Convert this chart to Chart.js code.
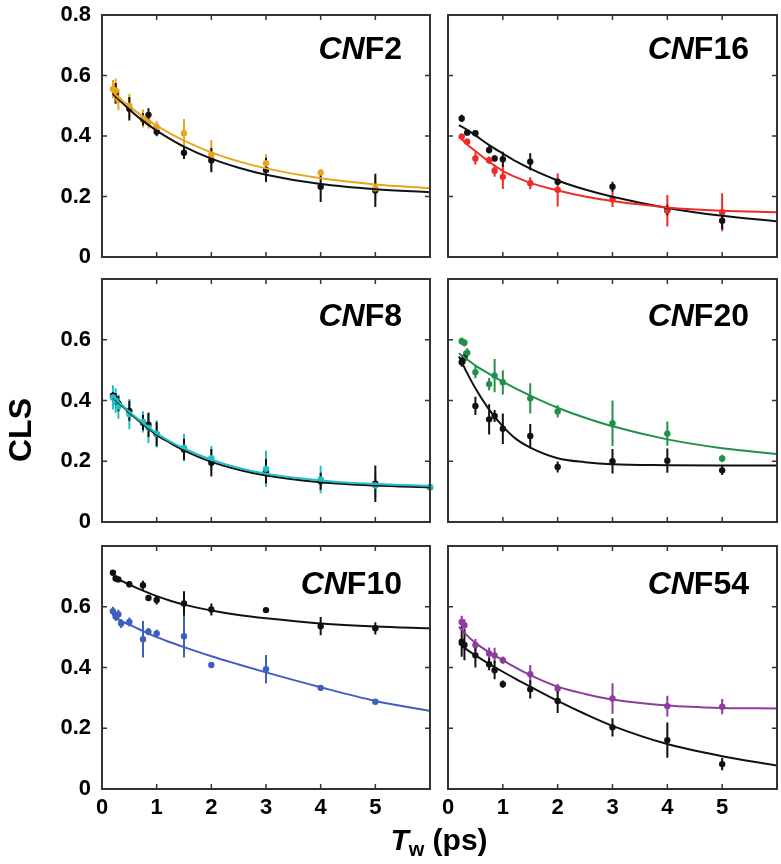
<!DOCTYPE html>
<html>
<head>
<meta charset="utf-8">
<script src="https://cdn.jsdelivr.net/npm/chart.js@4.4.1/dist/chart.umd.min.js"></script>
<style>
  body { margin: 0; background: #fff; }
  #fig { position: relative; width: 781px; height: 864px; font-family: "Liberation Sans", Arial, sans-serif; color: #000; }
  #fig canvas { position: absolute; }
  .lbl { position: absolute; font-weight: bold; line-height: 1; white-space: nowrap; }
  .name { font-size: 32px; text-align: right; }
  .name i { font-style: italic; }
</style>
</head>
<body>
<div id="fig"></div>
<script>
// shared axes
const fitTw = [0.2, 0.35, 0.5, 0.75, 1, 1.25, 1.5, 2, 2.5, 3, 4, 5, 6];
const xTickVals = [0, 1, 2, 3, 4, 5];
const yTickVals = [0, 0.2, 0.4, 0.6, 0.8];
const panelNames = ['CNF2', 'CNF16', 'CNF8', 'CNF20', 'CNF10', 'CNF54'];

// CNF2
const cnf2OrangeTw  = [0.2, 0.25, 0.3, 0.5, 0.75, 0.85, 1, 1.5, 2, 3, 4, 5];
const cnf2Orange    = [0.555, 0.55, 0.52, 0.50, 0.458, 0.445, 0.43, 0.409, 0.337, 0.31, 0.279, 0.227];
const cnf2OrangeErr = [0.03, 0.04, 0.035, 0.04, 0.03, 0.02, 0.02, 0.047, 0.05, 0.03, 0.012, 0.04];
const cnf2BlackTw   = [0.25, 0.5, 0.75, 0.85, 1, 1.5, 2, 3, 4, 5];
const cnf2Black     = [0.541, 0.49, 0.455, 0.47, 0.414, 0.345, 0.32, 0.288, 0.232, 0.22];
const cnf2BlackErr  = [0.034, 0.039, 0.02, 0.022, 0.015, 0.021, 0.04, 0.04, 0.05, 0.055];
const cnf2OrangeFit = [0.545, 0.52, 0.498, 0.464, 0.434, 0.408, 0.385, 0.346, 0.316, 0.293, 0.26, 0.24, 0.228];
const cnf2BlackFit  = [0.54, 0.513, 0.488, 0.45, 0.418, 0.39, 0.365, 0.325, 0.295, 0.272, 0.241, 0.224, 0.214];

// CNF16
const cnf16Tw       = [0.25, 0.35, 0.5, 0.75, 0.85, 1, 1.5, 2, 3, 4, 5];
const cnf16Red      = [0.398, 0.381, 0.326, 0.32, 0.285, 0.265, 0.244, 0.222, 0.19, 0.153, 0.148];
const cnf16RedErr   = [0.01, 0.01, 0.02, 0.012, 0.02, 0.04, 0.02, 0.055, 0.025, 0.052, 0.063];
const cnf16Black    = [0.458, 0.411, 0.409, 0.354, 0.326, 0.323, 0.315, 0.249, 0.232, 0.155, 0.12];
const cnf16BlackErr = [0.012, 0.008, 0.01, 0.012, 0.01, 0.025, 0.028, 0.01, 0.017, 0.017, 0.028];
const cnf16RedFit   = [0.398, 0.372, 0.35, 0.315, 0.285, 0.263, 0.245, 0.22, 0.2, 0.185, 0.164, 0.153, 0.148];
const cnf16BlackFit = [0.436, 0.42, 0.402, 0.37, 0.342, 0.315, 0.292, 0.253, 0.223, 0.199, 0.162, 0.136, 0.118];

// CNF8
const cnf8Tw        = [0.2, 0.25, 0.3, 0.5, 0.75, 0.85, 1, 1.5, 2, 3, 4, 5, 6];
const cnf8Cyan      = [0.41, 0.40, 0.38, 0.355, 0.33, 0.31, 0.29, 0.245, 0.21, 0.175, 0.14, 0.12, 0.115];
const cnf8CyanErr   = [0.04, 0.04, 0.04, 0.05, 0.035, 0.05, 0.045, 0.045, 0.04, 0.06, 0.045, 0.04, 0.055];
const cnf8Black     = [0.416, 0.405, 0.39, 0.366, 0.327, 0.32, 0.289, 0.239, 0.195, 0.167, 0.134, 0.126, 0.114];
const cnf8BlackErr  = [0.012, 0.02, 0.025, 0.033, 0.025, 0.04, 0.04, 0.035, 0.045, 0.04, 0.028, 0.06, 0.01];
const cnf8CyanFit   = [0.412, 0.388, 0.363, 0.326, 0.292, 0.265, 0.242, 0.205, 0.178, 0.159, 0.137, 0.125, 0.119];
const cnf8BlackFit  = [0.41, 0.385, 0.36, 0.322, 0.287, 0.26, 0.236, 0.198, 0.172, 0.153, 0.131, 0.12, 0.114];

// CNF20
const cnf20GreenTw  = [0.25, 0.3, 0.35, 0.5, 0.75, 0.85, 1, 1.5, 2, 3, 4, 5];
const cnf20Green    = [0.595, 0.59, 0.557, 0.493, 0.454, 0.482, 0.46, 0.407, 0.364, 0.325, 0.291, 0.209];
const cnf20GreenErr = [0.012, 0.012, 0.015, 0.02, 0.02, 0.055, 0.04, 0.05, 0.02, 0.075, 0.04, 0.012];
const cnf20BlackTw  = [0.25, 0.3, 0.5, 0.75, 0.85, 1, 1.5, 2, 3, 4, 5];
const cnf20Black    = [0.526, 0.541, 0.382, 0.338, 0.349, 0.307, 0.283, 0.181, 0.2, 0.202, 0.17];
const cnf20BlackErr = [0.015, 0.02, 0.03, 0.05, 0.02, 0.05, 0.04, 0.018, 0.04, 0.04, 0.015];
const cnf20GreenFit = [0.555, 0.535, 0.515, 0.488, 0.462, 0.438, 0.416, 0.376, 0.343, 0.315, 0.272, 0.243, 0.224];
const cnf20BlackFit = [0.545, 0.49, 0.44, 0.37, 0.315, 0.272, 0.245, 0.21, 0.197, 0.19, 0.187, 0.186, 0.186];

// CNF10
const cnf10BlueTw   = [0.2, 0.25, 0.3, 0.35, 0.5, 0.75, 0.85, 1, 1.5, 2, 3, 4, 5];
const cnf10Blue     = [0.585, 0.568, 0.575, 0.545, 0.55, 0.493, 0.518, 0.512, 0.503, 0.408, 0.394, 0.333, 0.287];
const cnf10BlueErr  = [0.015, 0.015, 0.015, 0.015, 0.015, 0.06, 0.012, 0.012, 0.07, 0, 0.047, 0, 0];
const cnf10BlackTw  = [0.2, 0.25, 0.3, 0.5, 0.75, 0.85, 1, 1.5, 2, 3, 4, 5];
const cnf10Black    = [0.712, 0.693, 0.69, 0.674, 0.671, 0.629, 0.622, 0.611, 0.591, 0.589, 0.536, 0.529];
const cnf10BlackErr = [0.008, 0.01, 0.008, 0.01, 0.015, 0.008, 0.015, 0.04, 0.02, 0, 0.03, 0.02];
const cnf10BlueFit  = [0.565, 0.553, 0.541, 0.52, 0.5, 0.483, 0.467, 0.437, 0.41, 0.384, 0.335, 0.29, 0.257];
const cnf10BlackFit = [0.70, 0.686, 0.673, 0.653, 0.635, 0.62, 0.607, 0.588, 0.573, 0.562, 0.545, 0.535, 0.529];

// CNF54
const cnf54Tw        = [0.25, 0.3, 0.5, 0.75, 0.85, 1, 1.5, 2, 3, 4, 5];
const cnf54Purple    = [0.55, 0.539, 0.474, 0.446, 0.44, 0.424, 0.378, 0.331, 0.298, 0.273, 0.271];
const cnf54PurpleErr = [0.02, 0.02, 0.02, 0.02, 0.025, 0.012, 0.03, 0.015, 0.05, 0.034, 0.025];
const cnf54Black     = [0.485, 0.474, 0.44, 0.411, 0.391, 0.345, 0.328, 0.29, 0.203, 0.161, 0.082];
const cnf54BlackErr  = [0.05, 0.05, 0.04, 0.02, 0.03, 0.012, 0.03, 0.04, 0.03, 0.058, 0.02];
const cnf54PurpleFit = [0.534, 0.505, 0.481, 0.45, 0.424, 0.398, 0.375, 0.337, 0.313, 0.295, 0.275, 0.267, 0.265];
const cnf54BlackFit  = [0.479, 0.458, 0.44, 0.412, 0.386, 0.361, 0.337, 0.29, 0.247, 0.208, 0.148, 0.108, 0.077];

const BLACK = '#111111';
const panels = [
  { box: [102, 15, 430, 257], left: true, bottom: false, top08: true, title: 21,
    series: [['#E8A51E', cnf2OrangeTw, cnf2Orange, cnf2OrangeErr, cnf2OrangeFit], [BLACK, cnf2BlackTw, cnf2Black, cnf2BlackErr, cnf2BlackFit]] },
  { box: [448, 15, 777, 257], left: false, bottom: false, top08: true, title: 21,
    series: [['#EE2B2B', cnf16Tw, cnf16Red, cnf16RedErr, cnf16RedFit], [BLACK, cnf16Tw, cnf16Black, cnf16BlackErr, cnf16BlackFit]] },
  { box: [102, 279, 430, 522], left: true, bottom: false, top08: false, title: 24,
    series: [['#22C0C4', cnf8Tw, cnf8Cyan, cnf8CyanErr, cnf8CyanFit], [BLACK, cnf8Tw, cnf8Black, cnf8BlackErr, cnf8BlackFit]] },
  { box: [448, 279, 777, 522], left: false, bottom: false, top08: false, title: 24,
    series: [['#22904A', cnf20GreenTw, cnf20Green, cnf20GreenErr, cnf20GreenFit], [BLACK, cnf20BlackTw, cnf20Black, cnf20BlackErr, cnf20BlackFit]] },
  { box: [102, 546, 430, 789], left: true, bottom: true, top08: false, title: 25,
    series: [['#3F5FBF', cnf10BlueTw, cnf10Blue, cnf10BlueErr, cnf10BlueFit], [BLACK, cnf10BlackTw, cnf10Black, cnf10BlackErr, cnf10BlackFit]] },
  { box: [448, 546, 777, 789], left: false, bottom: true, top08: false, title: 25,
    series: [['#8E3C9E', cnf54Tw, cnf54Purple, cnf54PurpleErr, cnf54PurpleFit], [BLACK, cnf54Tw, cnf54Black, cnf54BlackErr, cnf54BlackFit]] }
];

// error bars drawn with the chart's own scales
const errorBars = {
  id: 'errorBars',
  beforeDatasetsDraw(chart) {
    const { ctx, scales: { x, y } } = chart;
    ctx.save();
    ctx.lineWidth = 2;
    chart.data.datasets.forEach(ds => {
      if (!ds.err) return;
      ctx.strokeStyle = ds.borderColor;
      ctx.beginPath();
      ds.data.forEach((p, i) => {
        const e = ds.err[i];
        if (!e) return;
        const px = x.getPixelForValue(p.x);
        ctx.moveTo(px, y.getPixelForValue(p.y - e));
        ctx.lineTo(px, y.getPixelForValue(p.y + e));
      });
      ctx.stroke();
    });
    ctx.restore();
  }
};

// box frame with inward ticks
const frame = {
  id: 'frame',
  afterDraw(chart) {
    const { ctx, chartArea: a, scales: { x, y } } = chart;
    ctx.save();
    ctx.strokeStyle = '#333';
    ctx.lineWidth = 2;
    ctx.strokeRect(a.left, a.top, a.right - a.left, a.bottom - a.top);
    ctx.lineWidth = 1.5;
    ctx.beginPath();
    xTickVals.forEach(v => {
      if (v <= 0) return;
      const px = x.getPixelForValue(v);
      ctx.moveTo(px, a.bottom); ctx.lineTo(px, a.bottom - 5);
      ctx.moveTo(px, a.top); ctx.lineTo(px, a.top + 5);
    });
    yTickVals.forEach(v => {
      if (v <= 0 || v >= 0.8) return;
      const py = y.getPixelForValue(v);
      ctx.moveTo(a.left, py); ctx.lineTo(a.left + 5, py);
      ctx.moveTo(a.right, py); ctx.lineTo(a.right - 5, py);
    });
    ctx.stroke();
    ctx.restore();
  }
};

const fig = document.getElementById('fig');
const tickFont = { family: 'Liberation Sans', weight: 'bold', size: 22 };
const padL = 80, pad = 16, padX = 42;

panels.forEach((p, k) => {
  const [l, t, r, b] = p.box;
  const cl = l - (p.left ? padL : pad);
  const ct = t - pad;
  const cb = b + (p.bottom ? padX : pad);
  const w = r + pad - cl, h = cb - ct;
  const cv = document.createElement('canvas');
  cv.width = w; cv.height = h;
  cv.style.left = cl + 'px'; cv.style.top = ct + 'px';
  cv.style.width = w + 'px'; cv.style.height = h + 'px';
  fig.appendChild(cv);

  const datasets = [];
  p.series.forEach(([color, tw, vals, err, fit]) => {
    datasets.push({
      data: fitTw.map((xv, i) => ({ x: xv, y: fit[i] })),
      showLine: true, pointRadius: 0, borderColor: color, borderWidth: 2,
      cubicInterpolationMode: 'monotone'
    });
  });
  p.series.forEach(([color, tw, vals, err]) => {
    datasets.push({
      data: tw.map((xv, i) => ({ x: xv, y: vals[i] })),
      err: err, showLine: false, pointRadius: 3.2, borderWidth: 0,
      backgroundColor: color, borderColor: color, clip: false
    });
  });

  new Chart(cv, {
    type: 'scatter',
    data: { datasets },
    options: {
      responsive: false, animation: false, events: [],
      layout: { padding: { left: p.left ? 0 : pad, top: pad, right: pad, bottom: p.bottom ? 0 : pad } },
      plugins: { legend: { display: false }, tooltip: { enabled: false } },
      scales: {
        x: {
          type: 'linear', min: 0, max: 6, display: p.bottom,
          grid: { display: false, drawTicks: false }, border: { display: false },
          ticks: { stepSize: 1, padding: 6, font: tickFont, color: '#000',
                   callback: v => (xTickVals.includes(v) ? String(v) : '') },
          afterFit: s => { s.height = p.bottom ? padX : 0; s.paddingLeft = 0; s.paddingRight = 0; }
        },
        y: {
          type: 'linear', min: 0, max: 0.8, display: p.left,
          grid: { display: false, drawTicks: false }, border: { display: false },
          ticks: { stepSize: 0.2, padding: 11, font: tickFont, color: '#000',
                   callback: v => (v > 0.79 && !p.top08) ? '' : (v === 0 ? '0' : v.toFixed(1)) },
          afterFit: s => { s.width = p.left ? padL : 0; s.paddingTop = 0; s.paddingBottom = 0; }
        }
      }
    },
    plugins: [errorBars, frame]
  });

  const nm = document.createElement('div');
  nm.className = 'lbl name';
  nm.innerHTML = '<i>' + panelNames[k].slice(0, 2) + '</i>' + panelNames[k].slice(2);
  nm.style.right = (781 - r + 28) + 'px';
  nm.style.top = (t + p.title - 4) + 'px';
  fig.appendChild(nm);
});

const ylab = document.createElement('div');
ylab.className = 'lbl';
ylab.style.cssText = 'font-size:32px;left:20px;top:430px;transform:translate(-50%,-50%) rotate(-90deg);';
ylab.textContent = 'CLS';
fig.appendChild(ylab);

const xlab = document.createElement('div');
xlab.className = 'lbl';
xlab.style.cssText = 'font-size:30px;left:439px;top:840px;transform:translate(-50%,-50%);';
xlab.innerHTML = '<i>T</i><span style="font-size:20px;position:relative;top:6px;">w</span> (ps)';
fig.appendChild(xlab);
</script>
</body>
</html>
